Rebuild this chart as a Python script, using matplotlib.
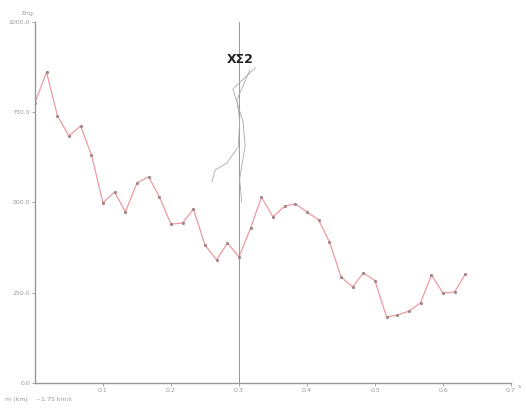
import matplotlib.pyplot as plt

# distance (x) and value (y)
dist = [0.000, 0.017, 0.033, 0.050, 0.067, 0.083, 0.100, 0.117, 0.133, 0.150,
        0.167, 0.183, 0.200, 0.217, 0.233, 0.250, 0.267, 0.283, 0.300, 0.317,
        0.333, 0.350, 0.367, 0.383, 0.400, 0.417, 0.433, 0.450, 0.467, 0.483,
        0.500, 0.517, 0.533, 0.550, 0.567, 0.583, 0.600, 0.617, 0.633]
value = [776, 861, 740, 684, 712, 632, 499, 529, 474, 554,
         571, 515, 440, 443, 482, 382, 341, 388, 349, 429,
         515, 460, 490, 496, 474, 452, 391, 294, 266, 305,
         283, 183, 188, 199, 222, 299, 249, 252, 302]

# hand drawn strokes under the label
stroke1_x = [0.324, 0.291, 0.306, 0.309, 0.301, 0.304]
stroke1_y = [873, 814, 723, 657, 565, 501]
stroke2_x = [0.316, 0.297, 0.301, 0.299, 0.282, 0.265, 0.260]
stroke2_y = [867, 784, 729, 654, 609, 590, 557]

xticks = [0.1, 0.2, 0.3, 0.4, 0.5, 0.6, 0.7]
yticks = [0, 250, 500, 750, 1000]

fig = plt.figure(figsize=(5.26, 4.08), dpi=100)
ax = fig.add_axes([0.0665, 0.0613, 0.905, 0.885])

ax.plot(dist, value, color='#ee99a3', linewidth=0.9, marker='o',
        markersize=1.3, markerfacecolor='#a08888', markeredgecolor='#a08888')
ax.axvline(0.3, color='#888888', linewidth=0.6)
ax.plot(stroke1_x, stroke1_y, color='#aaaaaa', linewidth=0.6)
ax.plot(stroke2_x, stroke2_y, color='#aaaaaa', linewidth=0.6)
ax.text(0.302, 895, 'XΣ2', fontsize=9, fontweight='bold', ha='center', va='center',
        color='#222222')

ax.set_xlim(0, 0.7)
ax.set_ylim(0, 1000)
ax.set_xticks(xticks)
ax.set_xticklabels(['%.1f' % t for t in xticks], fontsize=4.5, color='#999999')
ax.set_yticks(yticks)
ax.set_yticklabels(['%.1f' % t for t in yticks], fontsize=4.5, color='#999999')
ax.tick_params(length=2, width=0.6, color='#999999', pad=1.5)

for side in ['top', 'right']:
	ax.spines[side].set_visible(False)
for side in ['left', 'bottom']:
	ax.spines[side].set_color('#999999')
	ax.spines[side].set_linewidth(1.0)

fig.text(0.04, 0.963, 'Eng.', fontsize=4.5, color='#999999', ha='left')
fig.text(0.99, 0.049, 's', fontsize=4.5, color='#999999', ha='right')
fig.text(0.01, 0.018, 'm (km)    ~1.75 km/s', fontsize=4.5, color='#999999', ha='left')

fig.savefig('out.png', dpi=100)
